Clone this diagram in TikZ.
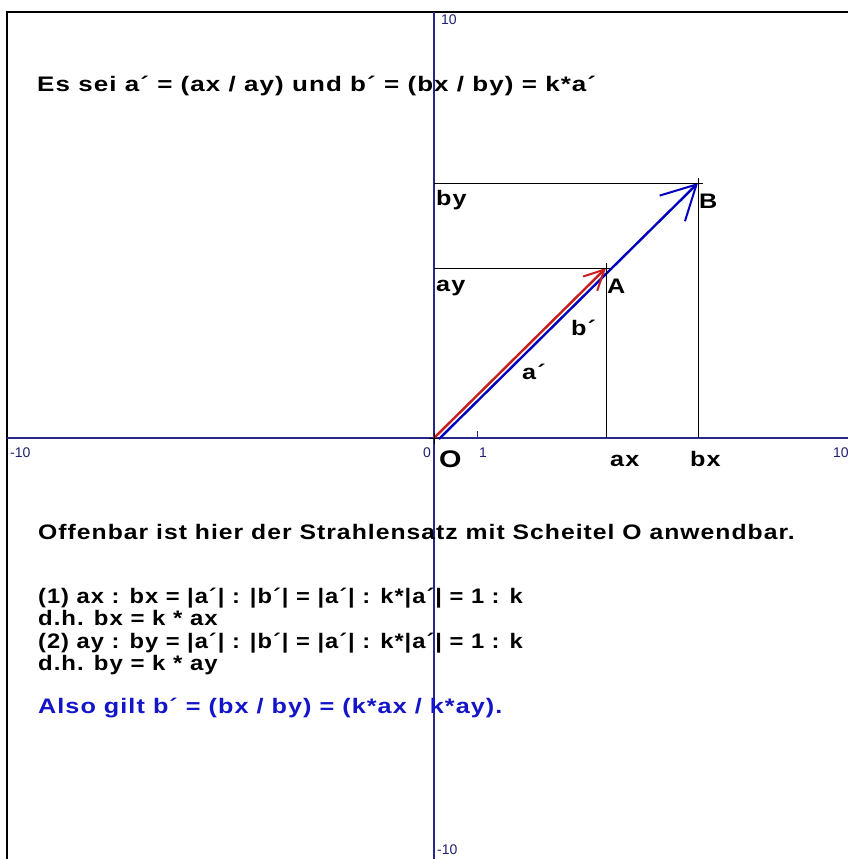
\documentclass[tikz,border=0pt]{standalone}
\usepackage{graphicx}
\usepackage{fontspec}
\setmainfont{Liberation Sans}
\newfontfamily\wideb[FakeStretch=1.2,LetterSpace=5]{Liberation Sans Bold}
\usetikzlibrary{arrows.meta}
\definecolor{axisblue}{RGB}{40,40,140}
\definecolor{vecblue}{RGB}{0,0,190}
\definecolor{vecred}{RGB}{200,30,30}
\definecolor{txtblue}{RGB}{20,20,200}
\newcommand{\hsc}[2]{\scalebox{#1}[1]{#2}}
\begin{document}
\begin{tikzpicture}[x=1pt,y=-1pt,
  axis/.style={draw=axisblue,line width=1.3pt},
  helper/.style={draw=black,line width=0.9pt},
  maintext/.style={anchor=base west,inner sep=0pt,font=\fontsize{21}{23}\wideb},
  ticklbl/.style={anchor=base west,inner sep=0pt,text=axisblue!80!black,font=\fontsize{14}{16}\selectfont},
  ptlbl/.style={anchor=base west,inner sep=0pt,font=\fontsize{21}{23}\wideb},
  cross/.style={draw=black,line width=1pt}]
\useasboundingbox (0,0) rectangle (848,859);
\fill[white] (0,0) rectangle (848,859);
% frame
\draw[line width=2pt] (7,859) -- (7,12) -- (848,12);
% coordinates
\coordinate (O) at (434,438);
\coordinate (Ob) at (439,439);
\coordinate (A) at (606,268);
\coordinate (B) at (698,183);
\coordinate (ay) at (434,268);
\coordinate (by) at (434,183);
\coordinate (ax) at (606,438);
\coordinate (bx) at (698,438);
\coordinate (yt) at (434,12);
\coordinate (yb) at (434,859);
\coordinate (xl) at (7,438);
\coordinate (xr) at (848,438);
% axes
\draw[axis] (yt) -- (yb);
\draw[axis] (xl) -- (xr);
\draw[axis,line width=1pt] (477,438) -- (477,431);
% helper lines
\draw[helper] (by) -- (B) -- (bx);
\draw[helper] (ay) -- (A) -- (ax);
% vectors
\draw[vecblue,line width=2.4pt,-{Straight Barb[length=34pt,width=36pt,line width=2pt]}] (Ob) -- (B);
\draw[vecred,line width=2.4pt,-{Straight Barb[length=20pt,width=20pt,line width=2pt]}] (O) -- (A);
% crosses
\foreach \p in {O,A,B}{
  \draw[cross] ([xshift=-5pt]\p) -- ([xshift=5pt]\p);
  \draw[cross] ([yshift=-6pt]\p) -- ([yshift=5pt]\p);
}
% axis labels
\node[ticklbl] (t1) at (441,25) {10};
\node[ticklbl] (t2) at (10,457) {-10};
\node[ticklbl] (t3) at (833,457) {10};
\node[ticklbl] (t4) at (437,854) {-10};
\node[ticklbl] (t0) at (423,457) {0};
\node[ticklbl] (tone) at (479,457) {1};
% point labels
\node[ptlbl,font=\fontsize{24}{26}\wideb] (lO) at (439,467) {O};
\node[ptlbl] (lA) at (607,293) {A};
\node[ptlbl] (lB) at (699,208) {B};
\node[ptlbl] (lby) at (436,205) {by};
\node[ptlbl] (lay) at (436,291) {ay};
\node[ptlbl] (lax) at (610,466) {ax};
\node[ptlbl] (lbx) at (690,466) {bx};
\node[ptlbl] (lb) at (571,335) {b´};
\node[ptlbl] (la) at (522,379) {a´};
% texts
\node[maintext] (h1) at (37,91) {\hsc{1.03}{Es sei a´ = (ax / ay) und b´ = (bx / by) = k*a´}};
\node[maintext] (h2) at (38,539) {\hsc{0.98}{Offenbar ist hier der Strahlensatz mit Scheitel O anwendbar.}};
\node[maintext] (h3) at (38,603) {\hsc{0.94}{(1) ax : bx = |a´| : |b´| = |a´| : k*|a´| = 1 : k}};
\node[maintext] (h4) at (38,625) {\hsc{0.95}{d.h. bx = k * ax}};
\node[maintext] (h5) at (38,648) {\hsc{0.94}{(2) ay : by = |a´| : |b´| = |a´| : k*|a´| = 1 : k}};
\node[maintext] (h6) at (38,670) {\hsc{0.95}{d.h. by = k * ay}};
\node[maintext,text=txtblue] (h7) at (38,713) {Also gilt b´ = (bx / by) = (k*ax / k*ay).};
\end{tikzpicture}
\end{document}
